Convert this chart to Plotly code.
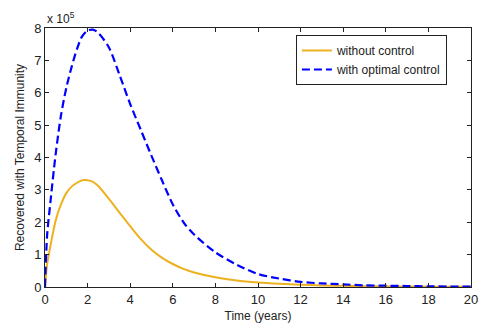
import plotly.graph_objects as go

t = [0, 0.1, 0.25, 0.5, 0.75, 1, 1.25, 1.5, 1.75, 2, 2.25, 2.5, 3, 3.5, 4, 4.5, 5, 5.5,
     6, 6.5, 7, 8, 9, 10, 11, 12, 13, 14, 15, 16, 17, 18, 19, 20]
# values in units of 1e5
without_control = [0, 0.7, 1.25, 2.05, 2.55, 2.9, 3.1, 3.22, 3.3, 3.3, 3.25, 3.12, 2.72, 2.3,
                   1.88, 1.48, 1.15, 0.9, 0.71, 0.56, 0.45, 0.3, 0.2, 0.14, 0.1, 0.07, 0.05,
                   0.035, 0.025, 0.02, 0.015, 0.01, 0.008, 0.005]
with_optimal = [0, 1.6, 2.6, 4.1, 5.3, 6.15, 6.8, 7.35, 7.75, 7.92, 7.95, 7.85, 7.4, 6.55, 5.65,
                4.85, 4.05, 3.28, 2.55, 2.0, 1.62, 1.07, 0.69, 0.4, 0.26, 0.16, 0.11, 0.08,
                0.05, 0.04, 0.03, 0.02, 0.015, 0.01]
scale = 1e5
y_ticks = [0, 1, 2, 3, 4, 5, 6, 7, 8]
x_ticks = [0, 2, 4, 6, 8, 10, 12, 14, 16, 18, 20]

fig = go.Figure()
fig.add_trace(go.Scatter(x=t, y=[v * scale for v in without_control], mode="lines",
                         name="without control",
                         line=dict(color="#EDB120", width=2, shape="spline", smoothing=0.8)))
fig.add_trace(go.Scatter(x=t, y=[v * scale for v in with_optimal], mode="lines",
                         name="with optimal control",
                         line=dict(color="#0000FF", width=2.2, dash="8px,4px", shape="spline",
                                   smoothing=0.8)))

axis_common = dict(showline=True, linecolor="#222", linewidth=1, mirror="ticks",
                   ticks="inside", ticklen=4, tickcolor="#222", showgrid=False,
                   zeroline=False, automargin=False, tickfont=dict(size=13, color="#222"))
fig.update_xaxes(range=[0, 20], tickvals=x_ticks, **axis_common,
                 title=dict(text="Time (years)", font=dict(size=12, color="#222"), standoff=6))
fig.update_yaxes(range=[0, 8 * scale], tickvals=[v * scale for v in y_ticks],
                 ticktext=[str(v) for v in y_ticks], **axis_common,
                 title=dict(text="Recovered with Temporal Immunity", font=dict(size=12, color="#222"),
                            standoff=6))
fig.add_annotation(text="x 10<sup>5</sup>", xref="paper", yref="paper", x=0, y=1.0,
                   xanchor="left", yanchor="bottom", showarrow=False,
                   font=dict(size=12, color="#222"))
fig.update_layout(
    width=479, height=329, margin=dict(l=45, r=8, t=28, b=42),
    paper_bgcolor="white", plot_bgcolor="white",
    font=dict(family="Liberation Sans, Arial, sans-serif", color="#222"),
    legend=dict(x=0.589, y=0.973, xanchor="left", yanchor="top", bordercolor="#222",
                borderwidth=1, bgcolor="white", font=dict(size=12),
                tracegroupgap=0),
    showlegend=True,
)
fig.write_html("out.html")
